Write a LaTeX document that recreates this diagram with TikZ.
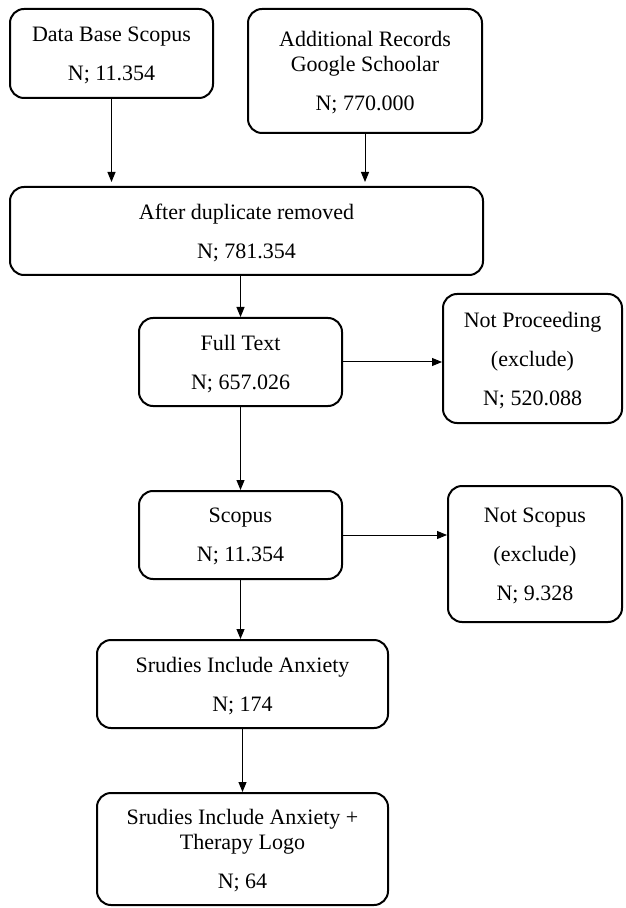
\documentclass[tikz,border=0pt]{standalone}
\usepackage{fontspec}
\setmainfont{Liberation Serif}
\usetikzlibrary{arrows.meta}
\tikzset{
  box/.style={draw, line width=1pt, rounded corners=7pt, align=center, inner sep=0pt, text depth=0pt, font=\fontsize{11}{12.5}\selectfont},
  arr/.style={line width=0.5pt, -{Triangle[length=5pt,width=4pt]}}
}
\begin{document}
\begin{tikzpicture}[x=0.5pt,y=-0.5pt]
\useasboundingbox (0,0) rectangle (625,908);
\node[box, minimum width=101.5pt, minimum height=44.5pt] (db) at (111.5,53.5) {Data Base Scopus\\[7pt]N; 11.354};
\node[box, minimum width=117pt, minimum height=62pt] (gs) at (365,71) {Additional Records\\Google Schoolar\\[7pt]N; 770.000};
\node[box, minimum width=236.5pt, minimum height=44pt] (dup) at (246.5,231) {After duplicate removed\\[7pt]N; 781.354};
\node[box, minimum width=101.5pt, minimum height=44pt] (full) at (240.5,362) {Full Text\\[7pt]N; 657.026};
\node[box, minimum width=89.5pt, minimum height=64.5pt] (np) at (532.5,358.5) {Not Proceeding\\[7pt](exclude)\\[7pt]N; 520.088};
\node[box, minimum width=101.5pt, minimum height=44pt] (scopus) at (240.5,535) {Scopus\\[7pt]N; 11.354};
\node[box, minimum width=87pt, minimum height=68pt] (ns) at (535,554) {Not Scopus\\[7pt](exclude)\\[7pt]N; 9.328};
\node[box, minimum width=145.5pt, minimum height=44pt] (sia) at (242.5,684) {Srudies Include Anxiety\\[7pt]N; 174};
\node[box, minimum width=145.5pt, minimum height=56pt] (siat) at (242.5,849) {Srudies Include Anxiety +\\Therapy Logo\\[7pt]N; 64};
\draw[arr, shorten >=2pt] (db.south) -- (db.south |- dup.north);
\draw[arr, shorten >=2pt] (gs.south) -- (gs.south |- dup.north);
\draw[arr] (dup.south -| full.north) -- (full.north);
\draw[arr] (full.east) -- (full.east -| np.west);
\draw[arr] (full.south) -- (scopus.north);
\draw[arr] (scopus.east) -- (scopus.east -| ns.west);
\draw[arr] (scopus.south) -- (scopus.south |- sia.north);
\draw[arr] (sia.south) -- (sia.south |- siat.north);
\end{tikzpicture}
\end{document}
